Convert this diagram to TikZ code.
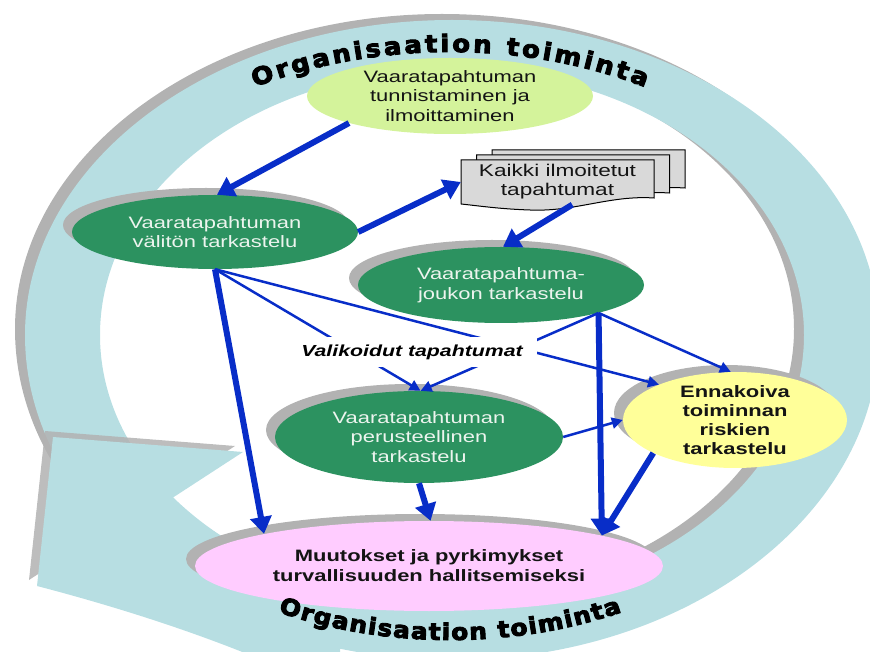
\documentclass[tikz,border=0pt]{standalone}
\usepackage{fontspec}
\setmainfont{Liberation Sans}
\newfontfamily\wf[FakeStretch=1.33]{Liberation Sans}
\newfontfamily\orgfont[FakeBold=4,FakeStretch=1.08]{DejaVu Sans Bold}
\usetikzlibrary{shapes.geometric,arrows.meta,shadows,decorations.text}

\definecolor{ringblue}{RGB}{183,222,226}
\definecolor{shadowgray}{RGB}{178,178,178}
\definecolor{stagegreen}{RGB}{44,146,96}
\definecolor{startgreen}{RGB}{212,243,155}
\definecolor{riskyellow}{RGB}{255,255,153}
\definecolor{changepink}{RGB}{255,204,255}
\definecolor{pagegray}{RGB}{217,217,217}
\definecolor{flowblue}{RGB}{8,45,200}
\definecolor{softwhite}{RGB}{236,244,238}
\definecolor{inkblack}{RGB}{20,20,20}

\begin{document}
\begin{tikzpicture}[x=1pt,y=1pt,
  stage/.style={ellipse, inner sep=0pt},
  shadowed/.style={drop shadow={shadow xshift=-9pt,shadow yshift=7pt,fill=shadowgray,opacity=1}},
  stagetext/.style={inner sep=0pt, align=center},
  regtext/.style={stagetext, font=\wf\fontsize{16.5}{19.5}\selectfont},
  boldtext/.style={stagetext, font=\wf\bfseries\fontsize{16.5}{19.5}\selectfont},
  docpage/.style={fill=pagegray, draw=black, line width=1pt},
  heavyflow/.style={draw=flowblue, line width=6pt, -{Triangle[length=17pt,width=21pt]}},
  lightflow/.style={draw=flowblue, line width=2.5pt, -{Triangle[length=11pt,width=11pt]}},
  orgtext/.style={decorate, decoration={text along path, text align=fit to path,
      text color=black,
      text={|\orgfont\fontsize{#1}{#1}\selectfont|Organisaation toiminta}}}
]
\useasboundingbox (0,0) rectangle (870,651);
\clip (0,0) rectangle (870,651);

% ring shadow
\begin{scope}[shift={(-10,6)}]
  \fill[shadowgray, even odd rule]
    (879,316) arc[start angle=0,end angle=180,x radius=427,y radius=315]
    arc[start angle=180,end angle=360,x radius=427,y radius=325] -- cycle
    (804,316) arc[start angle=0,end angle=360,x radius=352,y radius=266];
\end{scope}
% ring band
\fill[ringblue, even odd rule]
  (879,316) arc[start angle=0,end angle=180,x radius=427,y radius=315]
  arc[start angle=180,end angle=360,x radius=427,y radius=325] -- cycle
  (804,316) arc[start angle=0,end angle=360,x radius=352,y radius=266];
% tail of the circular arrow
\fill[ringblue] (37,65) .. controls (110,46) and (190,21) .. (262,-9)
  -- (340,-9) -- (340,51) -- (150,151) -- cycle;
% arrow head of the ring
\begin{scope}[shift={(-8,6)}]
  \fill[shadowgray, opacity=0.85] (53,214) -- (243,199) -- (37,65) -- cycle;
\end{scope}
\fill[ringblue] (53,214) -- (243,199) -- (37,65) -- cycle;

% stages
\node[stage, fill=startgreen, minimum width=286pt, minimum height=76pt] (top) at (450,555) {};
\node[stage, shadowed, fill=stagegreen, minimum width=286pt, minimum height=74pt] (g1) at (215,419) {};
\node[stage, shadowed, fill=stagegreen, minimum width=286pt, minimum height=76pt] (g2) at (501,366) {};
\node[stage, shadowed, fill=stagegreen, minimum width=288pt, minimum height=92pt] (g3) at (419,214) {};
\node[stage, shadowed, fill=riskyellow, minimum width=224pt, minimum height=96pt] (yel) at (735,231) {};
\node[stage, shadowed, fill=changepink, minimum width=468pt, minimum height=90pt] (pink) at (429,85) {};

% stack of reports
\foreach \k in {2,1,0}{
  \begin{scope}[shift={(15.5*\k,5*\k)}]
    \filldraw[docpage] (461,491) -- (654,491) -- (654,453)
      .. controls (610,456) and (575,439) .. (530,441)
      .. controls (500,442) and (480,445) .. (461,447) -- cycle;
  \end{scope}
}
\node[stagetext, text=inkblack, font=\wf\fontsize{17}{19}\selectfont,
  minimum width=193pt, minimum height=45pt] (doc) at (557.5,469) {Kaikki ilmoitetut\\tapahtumat};

% texts
\node[regtext, text=inkblack] (topt) at (top.center) {Vaaratapahtuman\\tunnistaminen ja\\ilmoittaminen};
\node[regtext, text=softwhite] (g1t) at (g1.center) {Vaaratapahtuman\\välitön tarkastelu};
\node[regtext, text=softwhite] (g2t) at (g2.center) {Vaaratapahtuma-\\joukon tarkastelu};
\node[regtext, text=softwhite] (g3t) at (g3.center) {Vaaratapahtuman\\perusteellinen\\tarkastelu};
\node[boldtext, text=inkblack, font=\wf\bfseries\fontsize{16.5}{19}\selectfont] (yelt) at (yel.center) {Ennakoiva\\toiminnan\\riskien\\tarkastelu};
\node[boldtext, text=inkblack, font=\wf\bfseries\fontsize{16.5}{20}\selectfont] (pinkt) at (pink.center) {Muutokset ja pyrkimykset\\turvallisuuden hallitsemiseksi};

% thin flows
\draw[lightflow] (g1.south) -- (g3.88);
\draw[lightflow] (g1.south) -- (yel.155);
\draw[lightflow] (g2.-16) -- (g3.88);
\draw[lightflow] (g2.-16) -- (yel.95);
\draw[lightflow] (g3.east) -- (yel.west);
\node[fill=white, inner xsep=14pt, inner ysep=8pt, text=black,
  font=\wf\bfseries\itshape\fontsize{16}{19}\selectfont] (sel) at (412,299) {Valikoidut tapahtumat};

% heavy flows
\draw[heavyflow] (top.195) -- (g1.87);
\draw[heavyflow] (g1.east) -- (doc.west);
\draw[heavyflow] (doc.-57) -- (g2.87);
\draw[heavyflow] (g1.south) -- (pink.169);
\draw[heavyflow] (g3.south) -- (pink.88);
\draw[heavyflow] (g2.-16) -- (pink.10);
\draw[heavyflow] (yel.202) -- (pink.10);

% ring captions
\path[orgtext=24] (254.9,563.8) arc[start angle=119.6,end angle=60.4,x radius=395,y radius=270];
\path[orgtext=23] (278.1,38.9) arc[start angle=244.2,end angle=295.8,x radius=395,y radius=280];
\end{tikzpicture}
\end{document}
